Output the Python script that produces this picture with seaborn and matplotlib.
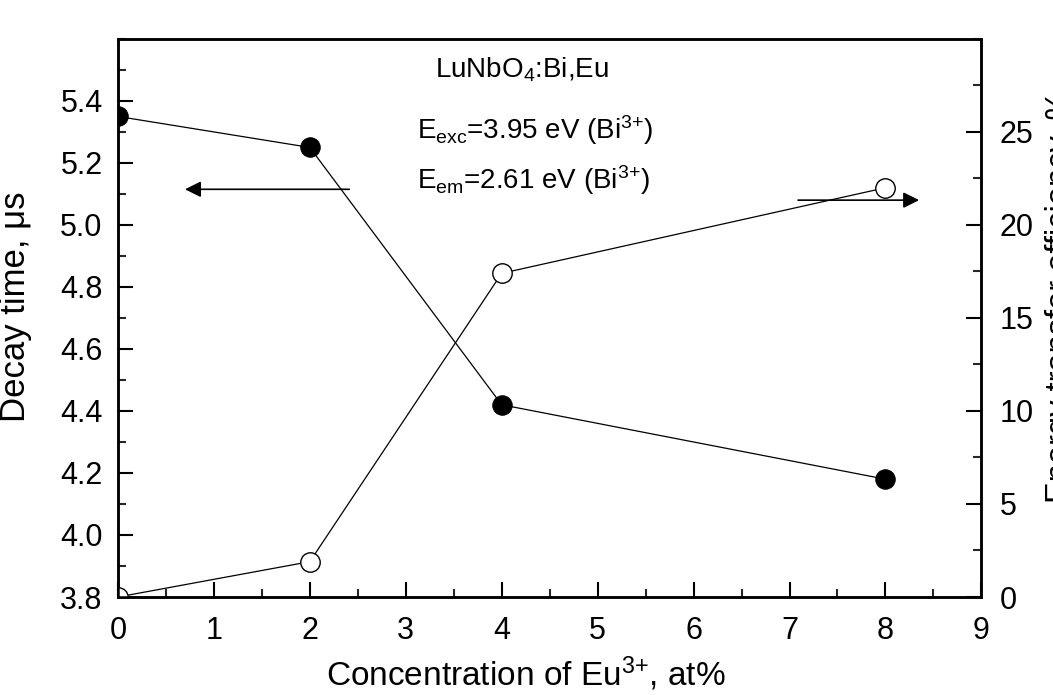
import pandas as pd
from matplotlib import pyplot as plt
from matplotlib.ticker import MultipleLocator, FormatStrFormatter
import seaborn as sns

# Eu3+ concentration, at%
conc = [0, 2, 4, 8]
# decay time of Bi3+ emission, us (left axis)
decay = [5.35, 5.25, 4.42, 4.18]
# energy transfer efficiency, % (right axis)
efficiency = [0.0, 1.9, 17.4, 22.0]

df = pd.DataFrame({'conc': conc, 'decay': decay, 'eff': efficiency})

sns.set_style('ticks')
plt.rcParams['font.family'] = ['Liberation Sans', 'DejaVu Sans']
plt.rcParams['mathtext.default'] = 'regular'
plt.rcParams['text.color'] = 'black'
plt.rcParams['axes.labelcolor'] = 'black'

fig = plt.figure(figsize=(10.53, 6.95), dpi=100)
ax = fig.add_axes([0.112, 0.141, 0.82, 0.803])
ax2 = ax.twinx()

sns.lineplot(x='conc', y='decay', data=df, ax=ax, color='black', linewidth=0.9,
             marker='o', markersize=14, markerfacecolor='black',
             markeredgecolor='black')
sns.lineplot(x='conc', y='eff', data=df, ax=ax2, color='black', linewidth=0.9,
             marker='o', markersize=14, markerfacecolor='white',
             markeredgecolor='black', markeredgewidth=1.0)

ax.set_xlim(0, 9)
ax.set_ylim(3.8, 5.6)
ax2.set_ylim(0, 30)

ax.xaxis.set_major_locator(MultipleLocator(1))
ax.xaxis.set_minor_locator(MultipleLocator(0.5))
ax.yaxis.set_major_locator(MultipleLocator(0.2))
ax.yaxis.set_minor_locator(MultipleLocator(0.1))
ax.yaxis.set_major_formatter(FormatStrFormatter('%.1f'))
ax.set_yticks([3.8, 4.0, 4.2, 4.4, 4.6, 4.8, 5.0, 5.2, 5.4])
ax2.set_yticks([0, 5, 10, 15, 20, 25])
ax2.yaxis.set_minor_locator(MultipleLocator(2.5))

for a in (ax, ax2):
    for s in a.spines.values():
        s.set_linewidth(1.8)
        s.set_visible(True)
        s.set_color('black')
    a.tick_params(which='major', direction='in', length=11, width=1.5,
                  labelsize=22, colors='black')
    a.tick_params(which='minor', direction='in', length=6, width=1.5)
ax.tick_params(axis='x', which='both', top=False, pad=14)
ax.tick_params(axis='y', which='both', right=False, pad=11)
ax2.tick_params(axis='y', which='both', pad=13)

ax.set_xlabel(r'Concentration of Eu$^{3{+}}$, at%', fontsize=24, labelpad=6)
ax.xaxis.label.set_x(0.472)
ax.set_ylabel(r'Decay time, μs', fontsize=25, labelpad=20)
ax.yaxis.label.set_y(0.52)
ax2.set_ylabel('Energy transfer efficiency, %', fontsize=23.5, labelpad=8)
ax2.yaxis.label.set_y(0.538)

ax.text(4.21, 5.50, r'LuNbO$_4$:Bi,Eu', fontsize=20, ha='center', va='center')
ax.text(3.12, 5.306, r'E$_{exc}$=3.95 eV (Bi$^{3{+}}$)', fontsize=20,
        ha='left', va='center')
ax.text(3.12, 5.145, r'E$_{em}$=2.61 eV (Bi$^{3{+}}$)', fontsize=20,
        ha='left', va='center')

# arrows pointing to the matching axis
ax.annotate('', xy=(0.67, 5.115), xytext=(2.44, 5.115),
            arrowprops=dict(arrowstyle='-|>', color='black', lw=1.2,
                            mutation_scale=24))
ax.annotate('', xy=(8.38, 5.08), xytext=(7.06, 5.08),
            arrowprops=dict(arrowstyle='-|>', color='black', lw=1.2,
                            mutation_scale=24))

plt.savefig('out.png', dpi=100)
